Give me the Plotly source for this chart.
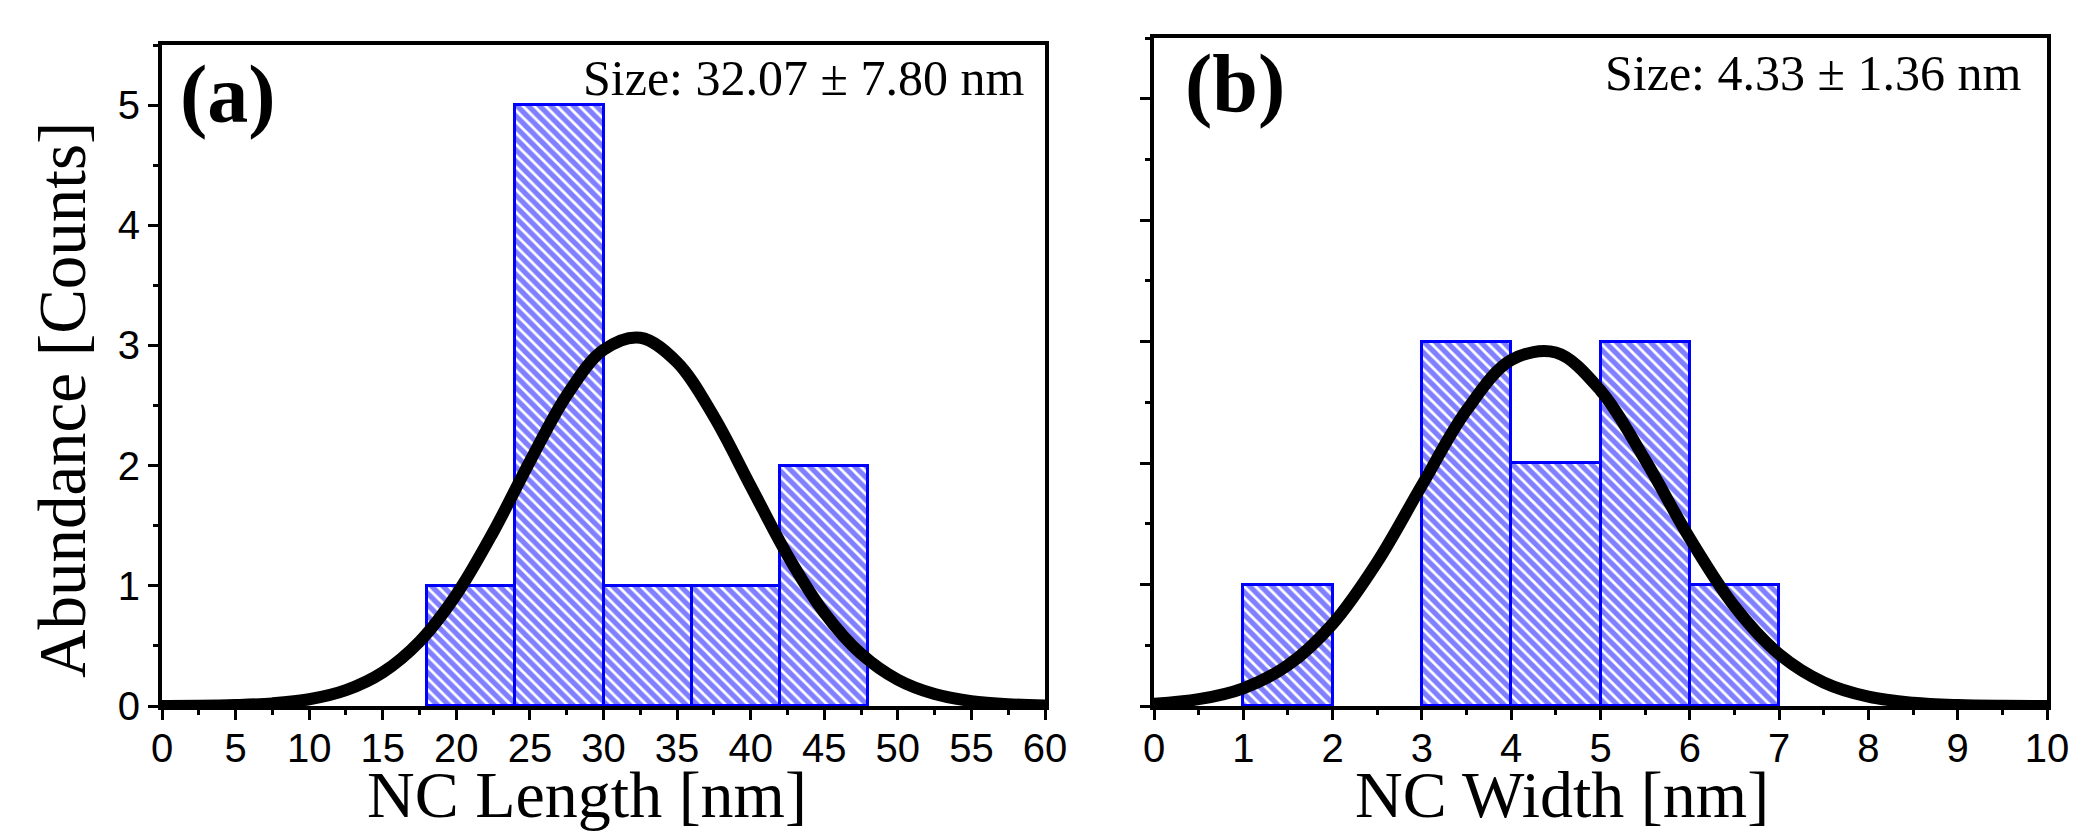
import plotly.graph_objects as go

# ---------------- data ----------------
# Panel (a): NC length histogram (bin width 6 nm)
len_bin_centers = [21, 27, 33, 39, 45]
len_counts = [1, 5, 1, 1, 2]
len_bin_width = 6

# Panel (b): NC width histogram (bin width 1 nm)
wid_bin_centers = [1.5, 3.5, 4.5, 5.5, 6.5]
wid_counts = [1, 3, 2, 3, 1]
wid_bin_width = 1

# Gaussian fit curves
len_fit_x = [0, 2.5, 5, 7.5, 10, 12.5, 15, 17.5, 20, 22.5, 25, 27.5, 30, 32.5,
             35, 37.5, 40, 42.5, 45, 47.5, 50, 52.5, 55, 57.5, 60]
len_fit_y = [0.001, 0.002, 0.008, 0.022, 0.056, 0.132, 0.280, 0.536, 0.927, 1.446,
             2.035, 2.585, 2.963, 3.064, 2.860, 2.409, 1.830, 1.255, 0.777, 0.434,
             0.218, 0.099, 0.041, 0.015, 0.005]

wid_fit_x = [0, 0.5, 1, 1.5, 2, 2.5, 3, 3.5, 4, 4.5, 5, 5.5, 6, 6.5, 7, 7.5,
             8, 8.5, 9, 9.5, 10]
wid_fit_y = [0.019, 0.056, 0.146, 0.336, 0.676, 1.186, 1.818, 2.435, 2.848,
             2.910, 2.598, 2.026, 1.380, 0.821, 0.427, 0.194, 0.077, 0.027, 0.008,
             0.002, 0.001]

len_ticks = [0, 5, 10, 15, 20, 25, 30, 35, 40, 45, 50, 55, 60]
wid_ticks = [0, 1, 2, 3, 4, 5, 6, 7, 8, 9, 10]
count_ticks = [0, 1, 2, 3, 4, 5]

len_label = "Size: 32.07 ± 7.80 nm"
wid_label = "Size: 4.33 ± 1.36 nm"

# ---------------- style ----------------
BLUE = "#0000ff"
SANS = "Liberation Sans"
SERIF = "Liberation Serif"
W, H = 2092, 833
PAGE_OFFSET = 8  # default body margin of the html page


def px_x(p):
    return (p - PAGE_OFFSET) / W


def px_y(p):
    return (H - (p - PAGE_OFFSET)) / H


fig = go.Figure()

hatch = dict(shape="\\", size=8, solidity=0.65, fgcolor=BLUE, bgcolor="white",
             fillmode="overlay")

fig.add_trace(go.Bar(x=len_bin_centers, y=len_counts, width=len_bin_width,
                     marker=dict(color="white", pattern=hatch,
                                 line=dict(color=BLUE, width=3)),
                     xaxis="x", yaxis="y", hoverinfo="x+y"))
fig.add_trace(go.Scatter(x=len_fit_x, y=len_fit_y, mode="lines",
                         line=dict(color="black", width=12, shape="spline", smoothing=1),
                         xaxis="x", yaxis="y"))

fig.add_trace(go.Bar(x=wid_bin_centers, y=wid_counts, width=wid_bin_width,
                     marker=dict(color="white", pattern=hatch,
                                 line=dict(color=BLUE, width=3)),
                     xaxis="x2", yaxis="y2", hoverinfo="x+y"))
fig.add_trace(go.Scatter(x=wid_fit_x, y=wid_fit_y, mode="lines",
                         line=dict(color="black", width=12, shape="spline", smoothing=1),
                         xaxis="x2", yaxis="y2"))


def axis_common():
    return dict(showgrid=False, zeroline=False, showline=True, linecolor="black",
                linewidth=4, mirror=True, ticks="outside", ticklen=10, tickwidth=3,
                tickcolor="black", tickfont=dict(family=SANS, size=40, color="black"),
                fixedrange=True, automargin=False)


def minor(dt):
    return dict(dtick=dt, ticks="outside", ticklen=5, tickwidth=3, tickcolor="black")


fig.update_layout(
    width=W, height=H,
    paper_bgcolor="white", plot_bgcolor="white",
    showlegend=False, bargap=0,
    margin=dict(l=0, r=0, t=0, b=0, pad=0, autoexpand=False),
    xaxis=dict(axis_common(), domain=[px_x(162), px_x(1045)], range=[0, 60],
               tickvals=len_ticks, anchor="y", minor=minor(2.5),
               ticklabelstandoff=-6),
    yaxis=dict(axis_common(), domain=[px_y(706), px_y(45)], range=[0, 5.5],
               tickvals=count_ticks, anchor="x", minor=minor(0.5)),
    xaxis2=dict(axis_common(), domain=[px_x(1154), px_x(2047)], range=[0, 10],
                tickvals=wid_ticks, anchor="y2", minor=minor(0.5),
                ticklabelstandoff=-6),
    yaxis2=dict(axis_common(), domain=[px_y(706), px_y(38)], range=[0, 5.5],
                tickvals=count_ticks, anchor="x2", showticklabels=False,
                minor=minor(0.5)),
)

ann = [
    dict(text="Abundance [Counts]", x=px_x(62), y=px_y(400), textangle=-90,
         font=dict(family=SERIF, size=67, color="black")),
    dict(text="NC Length [nm]", x=px_x(587), y=px_y(794),
         font=dict(family=SERIF, size=66, color="black")),
    dict(text="NC Width [nm]", x=px_x(1562), y=px_y(794),
         font=dict(family=SERIF, size=66, color="black")),
    dict(text="<b>(a)</b>", x=px_x(178), y=px_y(94), xanchor="left",
         font=dict(family=SERIF, size=82, color="black")),
    dict(text="<b>(b)</b>", x=px_x(1183), y=px_y(84), xanchor="left",
         font=dict(family=SERIF, size=82, color="black")),
    dict(text=len_label, x=px_x(1026), y=px_y(78), xanchor="right",
         font=dict(family=SERIF, size=50, color="black")),
    dict(text=wid_label, x=px_x(2023), y=px_y(73), xanchor="right",
         font=dict(family=SERIF, size=50, color="black")),
]
for a in ann:
    a.setdefault("xanchor", "center")
    a.setdefault("yanchor", "middle")
    a.update(xref="paper", yref="paper", showarrow=False)
fig.update_layout(annotations=ann)

fig.write_html("out.html")
